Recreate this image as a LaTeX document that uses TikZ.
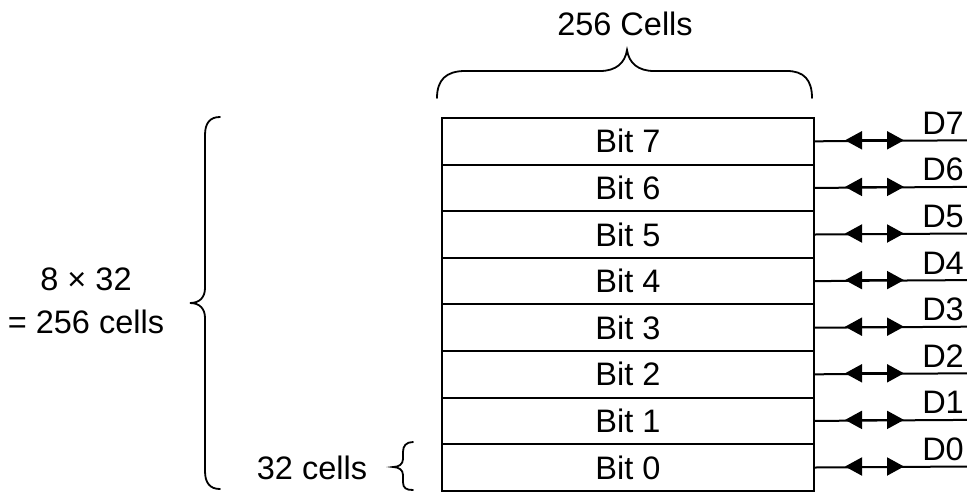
\documentclass[tikz,border=0pt]{standalone}
\usepackage{fontspec}
\setmainfont{Liberation Sans}
\usetikzlibrary{arrows.meta}
\begin{document}
\begin{tikzpicture}[x=1pt,y=-1pt,
  lbl/.style={font=\fontsize{32.5}{43}\selectfont, inner sep=0pt},
  cell/.style={draw, line width=2pt, minimum width=372pt, minimum height=46.6pt,
               inner sep=0pt, anchor=north west, font=\fontsize{32.5}{38}\selectfont},
  wire/.style={line width=2pt},
  bus/.style={wire, -{Triangle[length=17pt,width=18pt]}},
  bracepath/.style={line width=1.8pt, line cap=round}
]
\useasboundingbox (0,0) rectangle (967,491);

% memory rows, Bit 7 on top
\foreach \r in {0,...,7}{
  \pgfmathtruncatemacro\b{7-\r}
  \pgfmathsetmacro\yt{117+46.6*\r}
  \pgfmathsetmacro\yc{117+46.6*(\r+0.5)}
  \node[cell] (b\b) at (441,\yt) {Bit \b};
  \coordinate (m\b) at (875,\yc);
  \coordinate (l\b) at (845,\yc);
  \coordinate (r\b) at (904,\yc);
  \coordinate (e\b) at (967,\yc);
  \draw[wire] (b\b.east) -- (e\b);
  \draw[bus] (m\b) -- (l\b);
  \draw[bus] (m\b) -- (r\b);
  \node[lbl, anchor=base east] (d\b) at (964,\yc-6) {D\b};
}

% top brace over the row width
\draw[bracepath] (437,98) .. controls (437,80) and (446,71) .. (465,71) -- (600,71)
  .. controls (616,71) and (625,63) .. (627,50)
  .. controls (629,63) and (638,71) .. (654,71) -- (787,71)
  .. controls (804,71) and (812,80) .. (812,98);
\node[lbl] (cols) at (625,24) {256 Cells};

% left brace over all eight rows
\draw[bracepath] (220,117) .. controls (210,117) and (205,123) .. (205,135) -- (205,288)
  .. controls (205,297) and (200,303) .. (190,303)
  .. controls (200,303) and (205,309) .. (205,318) -- (205,471)
  .. controls (205,483) and (210,489) .. (220,489);
\node[lbl, align=center] (total) at (86,301) {8 × 32\\= 256 cells};

% small brace for one row
\draw[bracepath] (413,442) .. controls (406,442) and (403,446) .. (403,452) -- (403,459)
  .. controls (403,464) and (399,467) .. (393,467)
  .. controls (399,467) and (403,470) .. (403,475) -- (403,482)
  .. controls (403,488) and (406,490) .. (413,490);
\node[lbl] (row) at (312,468) {32 cells};
\end{tikzpicture}
\end{document}
